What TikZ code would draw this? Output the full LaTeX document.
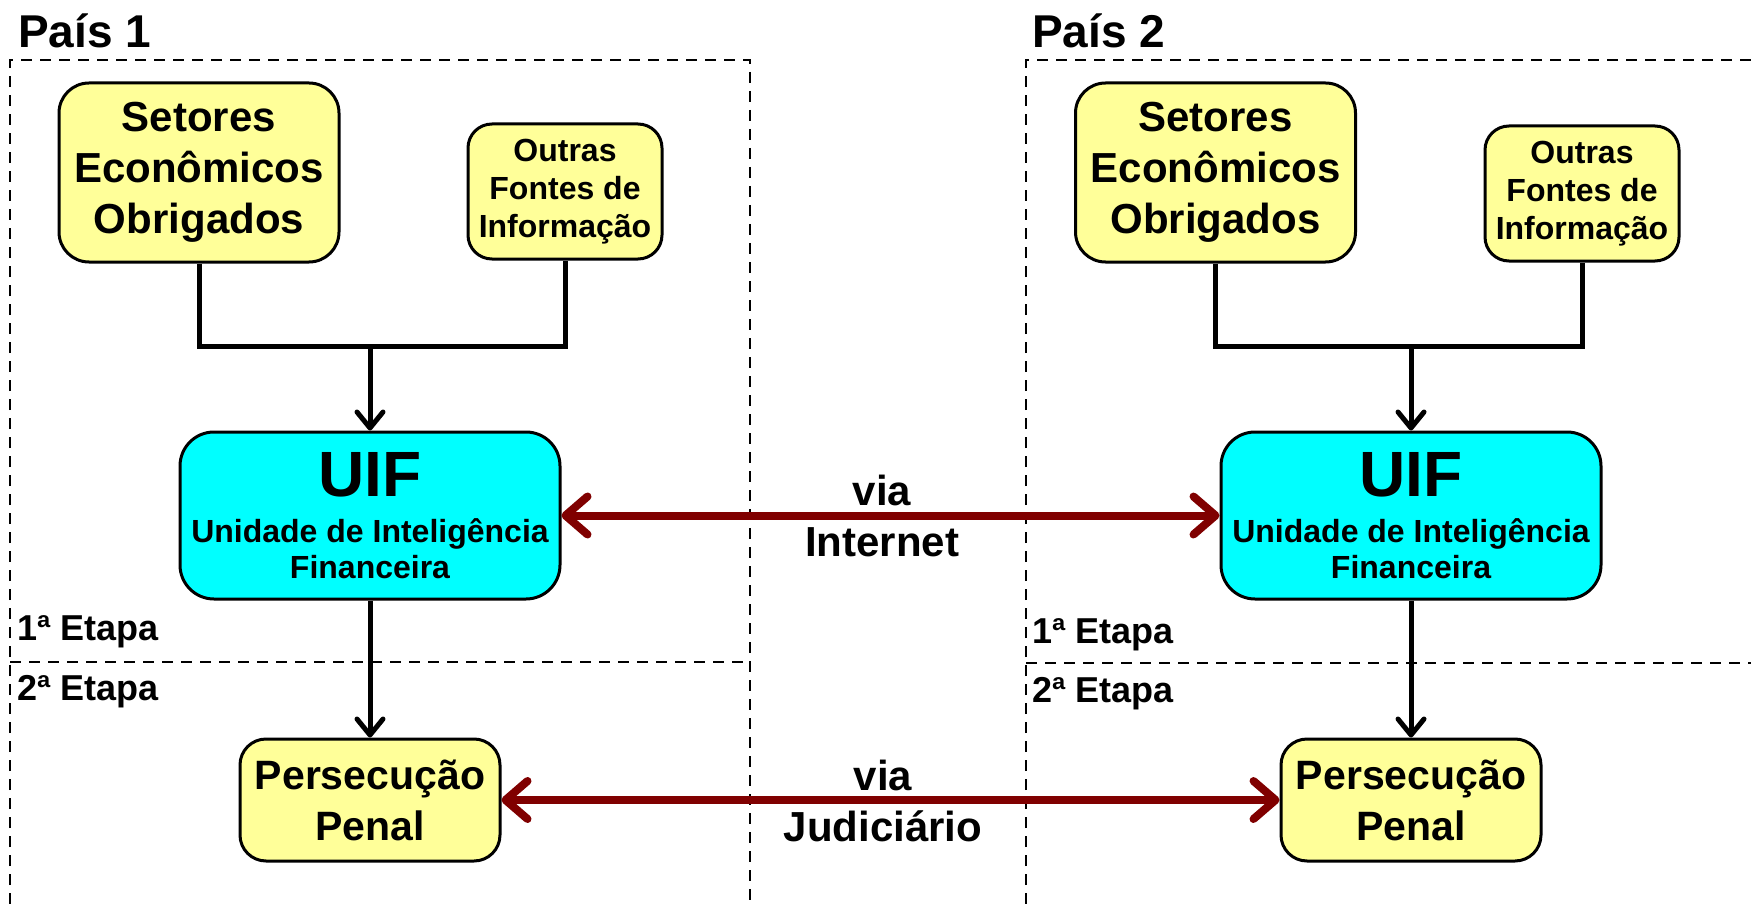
\documentclass[tikz,border=0pt]{standalone}
\usepackage{fontspec}
\setmainfont{Liberation Sans}
\usetikzlibrary{arrows.meta}
\definecolor{boxyellow}{RGB}{255,255,153}
\definecolor{uifcyan}{RGB}{0,255,255}
\definecolor{linkred}{RGB}{128,0,0}
\tikzset{
	box/.style={draw, line width=3pt, inner sep=0pt, align=center},
	setbox/.style={box, fill=boxyellow, rounded corners=30pt, minimum width=280pt, minimum height=179pt,
		font=\bfseries\fontsize{42}{51}\selectfont},
	srcbox/.style={box, fill=boxyellow, rounded corners=24pt, minimum width=194pt, minimum height=135pt,
		font=\bfseries\fontsize{32}{38}\selectfont},
	uifbox/.style={box, fill=uifcyan, rounded corners=34pt, minimum width=380pt, minimum height=167pt,
		font=\bfseries\fontsize{32}{36}\selectfont},
	penbox/.style={box, fill=boxyellow, rounded corners=26pt, minimum width=260pt, minimum height=122pt,
		font=\bfseries\fontsize{41}{51}\selectfont},
	frame/.style={line width=2.5pt, dash pattern=on 11pt off 8pt},
	flow/.style={line width=5pt, line join=miter},
	flowarrow/.style={line width=5pt, -{Straight Barb[length=16pt,width=26pt,round]}},
	link/.style={line width=8pt, linkred, {Straight Barb[length=22pt,width=38pt,round]}-{Straight Barb[length=22pt,width=38pt,round]}},
	vialabel/.style={align=center, inner sep=0pt, font=\bfseries\fontsize{42}{51}\selectfont},
	title/.style={anchor=base west, inner sep=0pt, font=\bfseries\fontsize{46}{46}\selectfont},
	stage/.style={anchor=base west, inner sep=0pt, font=\bfseries\fontsize{36}{36}\selectfont}
}
\begin{document}
\begin{tikzpicture}[x=1pt, y=-1pt]
	\useasboundingbox (0,0) rectangle (1751,904);
	% frames of the two countries
	\draw[frame] (10,904) -- (10,60) -- (750,60) -- (750,904);
	\draw[frame] (10,662) -- (750,662);
	\draw[frame] (1026,904) -- (1026,60) -- (1751,60);
	\draw[frame] (1026,663) -- (1751,663);
	\node[title] (pais1) at (18,48) {País 1};
	\node[title] (pais2) at (1032,48) {País 2};
	\node[stage] (etapa1a) at (17,640) {1ª Etapa};
	\node[stage] (etapa1b) at (17,700) {2ª Etapa};
	\node[stage] (etapa2a) at (1032,643) {1ª Etapa};
	\node[stage] (etapa2b) at (1032,702) {2ª Etapa};
	% boxes of each country
	\foreach \n/\sx/\ox/\oy/\ux in {1/199/565/191.5/370, 2/1215.5/1582/193.5/1411}{
		\node[setbox] (set\n) at (\sx,172.5) {Setores\\Econômicos\\Obrigados};
		\node[srcbox] (out\n) at (\ox,\oy) {Outras\\Fontes de\\Informação};
		\node[uifbox] (uif\n) at (\ux,515.5) {{\fontsize{64}{64}\selectfont UIF}\\[10pt]Unidade de Inteligência\\Financeira};
		\node[penbox] (pen\n) at (\ux,800) {Persecução\\Penal};
		\coordinate (junc\n) at (\ux,346.5);
		\draw[flow] (set\n.south) |- (junc\n) -| (out\n.south);
		\draw[flowarrow] (junc\n) -- (uif\n.north);
		\draw[flowarrow] (uif\n.south) -- (pen\n.north);
	}
	% links between the countries
	\draw[link] (uif1.east) -- (uif2.west);
	\draw[link] (pen1.east) -- (pen2.west);
	\node[vialabel] (vianet) at (882,516) {via\\Internet};
	\node[vialabel] (viajud) at (883,801) {via\\Judiciário};
\end{tikzpicture}
\end{document}
